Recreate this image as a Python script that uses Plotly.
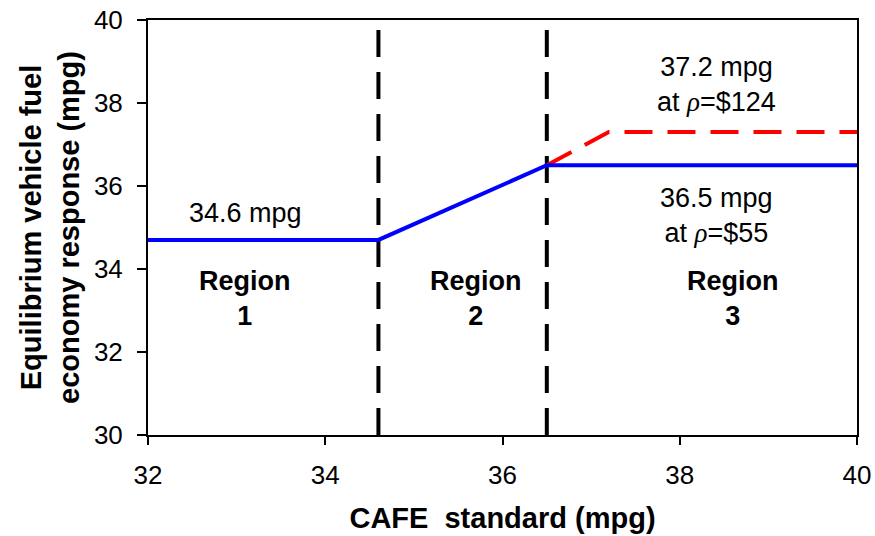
import plotly.graph_objects as go

# Data
cafe_blue = [32, 34.6, 36.5, 40]
resp_blue = [34.7, 34.7, 36.5, 36.5]
cafe_red = [36.5, 37.2, 40]
resp_red = [36.5, 37.3, 37.3]
boundaries = [34.6, 36.5]
x_ticks = [32, 34, 36, 38, 40]
y_ticks = [30, 32, 34, 36, 38, 40]

fig = go.Figure()

for b in boundaries:
    fig.add_trace(go.Scatter(x=[b, b], y=[30, 40], mode="lines",
                             line=dict(color="black", width=4, dash="27px,15px"),
                             showlegend=False, hoverinfo="skip"))

fig.add_trace(go.Scatter(x=cafe_red, y=resp_red, mode="lines",
                         line=dict(color="#ff0000", width=4, dash="28px,15px"),
                         showlegend=False))
fig.add_trace(go.Scatter(x=cafe_blue, y=resp_blue, mode="lines",
                         line=dict(color="#0000ff", width=4),
                         showlegend=False))

font = "Liberation Sans, Arial, sans-serif"
rho = "<span style='font-family:Liberation Serif'><i>ρ</i></span>"
ann = [
    dict(x=33.1, y=35.35, text="34.6 mpg"),
    dict(x=33.1, y=33.3, text="<b>Region<br>1</b>"),
    dict(x=35.7, y=33.3, text="<b>Region<br>2</b>"),
    dict(x=38.6, y=33.3, text="<b>Region<br>3</b>"),
    dict(x=38.42, y=38.45, text="37.2 mpg<br>at " + rho + "=$124"),
    dict(x=38.42, y=35.28, text="36.5 mpg<br>at " + rho + "=$55"),
]
for a in ann:
    fig.add_annotation(x=a["x"], y=a["y"], text=a["text"], showarrow=False,
                       font=dict(family=font, size=27, color="black"),
                       xanchor="center", yanchor="middle")

fig.update_layout(
    width=875, height=536,
    margin=dict(l=148, r=18, t=20, b=101, autoexpand=False),
    paper_bgcolor="white", plot_bgcolor="white",
    font=dict(family=font, size=26, color="black"),
    xaxis=dict(range=[32, 40], tickvals=x_ticks, ticks="outside", ticklen=8,
               tickwidth=2, tickcolor="black", showline=True, linewidth=2,
               linecolor="black", mirror=True, showgrid=False, zeroline=False,
               tickfont=dict(size=26), automargin=False, ticklabelstandoff=8,
               title=dict(text="<b>CAFE  standard (mpg)</b>", font=dict(size=29), standoff=18)),
    yaxis=dict(range=[30, 40], tickvals=y_ticks, ticks="outside", ticklen=9,
               tickwidth=2, tickcolor="black", showline=True, linewidth=2,
               linecolor="black", mirror=True, showgrid=False, zeroline=False,
               tickfont=dict(size=26), automargin=False, ticklabelstandoff=9,
               title=dict(text="<b>Equilibrium vehicle fuel<br>economy response (mpg)</b>",
                          font=dict(size=29), standoff=6)),
)

fig.write_html("out.html", config={"displayModeBar": False},
               post_script="document.body.style.margin='0';document.body.style.overflow='hidden';")
